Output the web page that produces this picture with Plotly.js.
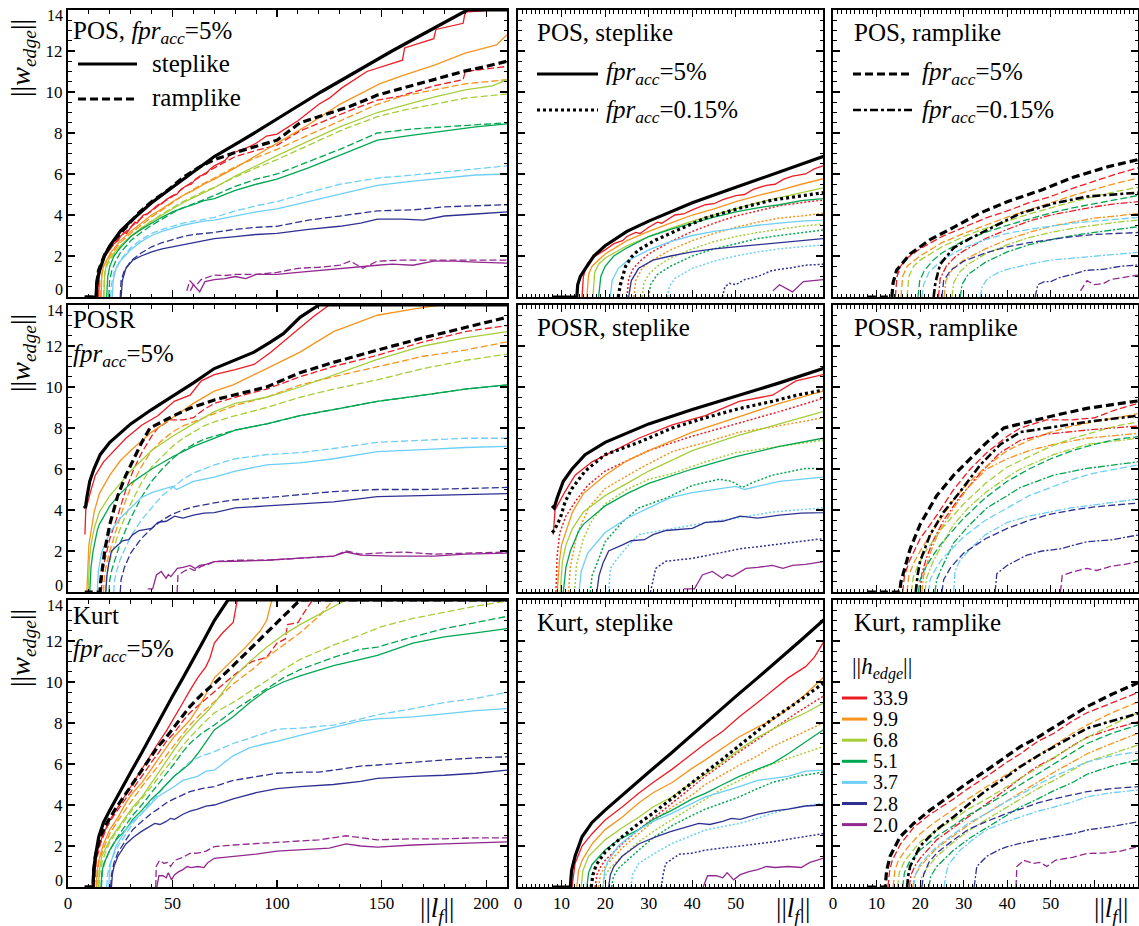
<!DOCTYPE html>
<html>
<head>
<meta charset="utf-8">
<script src="https://cdn.plot.ly/plotly-3.0.1.min.js"></script>
<style>
html, body { margin: 0; padding: 0; background: #fff; }
#chart { width: 1139px; height: 926px; }
</style>
</head>
<body>
<div id="chart"></div>
<script>
// Edge heights ||h_edge|| (legend order) and the colour of each
const hEdge = ['33.9', '9.9', '6.8', '5.1', '3.7', '2.8', '2.0'];
const hColors = ['#ED1C24', '#F7941D', '#A6CE39', '#00A651', '#6DCFF6', '#2E3192', '#92278F'];

// Each curve is a flat list of (||l_f||, ||w_edge||) pairs; curve lists follow hEdge order.
// ---------- POS ----------
const POS_step5_black = [8,0, 13.5,0, 13.7,0.6, 14.3,1.0, 15.5,1.4, 17.4,2.0, 20,2.5, 25,3.2, 30,3.7, 40,4.6, 50,5.35, 60,6.1, 70,6.85, 80,7.45, 90,8.05, 105,9.0, 121,10.0, 138,11.0, 155,12.0, 173,13.0, 191,14, 210,14];
const POS_step5 = [
  [14.7,0, 15,1.0, 15.8,1.6, 17,1.9, 20,2.3, 22,2.6, 24,2.75, 25,2.95, 27,3.15, 28,3.1, 30,3.4, 32,3.65, 33,3.6, 36,4.0, 38,4.05, 40,4.25, 43,4.5, 45,4.55, 47,4.75, 50,4.95, 52,5.0, 54,5.25, 57,5.45, 59,5.5, 61,5.75, 63,5.9, 66,6.0, 68,6.25, 70,6.4, 75,6.65, 78,7.0, 85,7.25, 90,7.5, 95,7.85, 100,7.95, 110,8.6, 120,9.4, 125,9.7, 131,10.2, 143,11.0, 160,11.55, 161,12.15, 175,12.6, 176,13.05, 189,13.35, 190,13.9, 203,14.0, 210,14.0],
  [15.8,0, 16.2,1.1, 17,1.5, 20,2.1, 25,2.75, 30,3.2, 35,3.6, 40,4.0, 45,4.3, 50,4.65, 55,4.95, 60,5.2, 65,5.5, 70,5.75, 80,6.3, 90,6.9, 100,7.5, 115,8.4, 130,9.4, 149,10.4, 160,10.8, 175,11.3, 190,11.9, 205,12.3, 210,12.8],
  [17.2,0, 17.6,1.2, 18.5,1.6, 20,1.9, 25,2.5, 30,2.95, 35,3.35, 40,3.7, 45,4.0, 50,4.3, 55,4.6, 60,4.85, 65,5.1, 70,5.33, 80,5.9, 90,6.4, 100,6.9, 115,7.6, 130,8.3, 148,9.0, 160,9.35, 175,9.75, 190,10.1, 203,10.3, 210,10.6],
  [18.5,0, 19,1.0, 20,1.5, 22,2.0, 25,2.4, 30,2.95, 35,3.3, 40,3.6, 45,3.9, 50,4.15, 55,4.35, 60,4.5, 65,4.7, 70,4.8, 80,5.2, 90,5.5, 100,5.75, 115,6.3, 130,6.9, 148,7.65, 165,7.9, 180,8.1, 195,8.3, 210,8.45],
  [21.2,0, 21.6,0.8, 23,1.4, 25,1.75, 30,2.3, 35,2.7, 40,3.0, 45,3.2, 50,3.35, 55,3.5, 60,3.6, 65,3.7, 70,3.75, 80,3.95, 90,4.15, 100,4.3, 115,4.65, 130,5.0, 148,5.45, 165,5.65, 180,5.8, 195,5.95, 210,6.0],
  [25.4,0, 26,0.8, 27.7,1.4, 31,1.8, 35,2.0, 40,2.2, 45,2.35, 50,2.45, 55,2.55, 60,2.65, 65,2.75, 70,2.85, 80,2.95, 90,3.05, 100,3.1, 115,3.3, 130,3.45, 140,3.6, 148,3.8, 160,3.8, 170,3.75, 180,3.95, 195,4.05, 210,4.15],
  [58.5,0.3, 60,0.6, 63,0.25, 65.5,0.75, 70,0.85, 75,0.9, 80,1.0, 85,0.9, 90,1.1, 100,1.1, 110,1.2, 120,1.3, 130,1.4, 140,1.5, 148,1.55, 155,1.6, 165,1.55, 175,1.75, 185,1.75, 195,1.7, 210,1.65]
];
const POS_ramp5_black = [8,0, 13.5,0, 13.8,0.7, 14.6,1.3, 17.7,2.1, 22.3,2.8, 27.7,3.4, 33.8,4.1, 40,4.65, 47.6,5.2, 55.3,5.85, 63,6.35, 70,6.7, 80,7.05, 90,7.35, 100,7.65, 111,8.5, 123,8.9, 135,9.3, 148,9.85, 159,10.15, 175,10.6, 189,11.0, 200,11.25, 210,11.5];
const POS_ramp5 = [
  [14.3,0, 14.7,1.0, 15.5,1.5, 17,1.9, 20,2.35, 25,2.95, 30,3.4, 35,3.85, 40,4.2, 45,4.6, 50,4.9, 55,5.3, 60,5.65, 65,6.0, 70,6.3, 80,6.85, 90,7.15, 100,7.4, 111,8.1, 123,8.6, 135,9.1, 148,9.6, 159,9.8, 175,10.3, 189,10.6, 190,11.0, 210,11.25],
  [15.6,0, 16,1.0, 17,1.5, 20,2.0, 25,2.65, 30,3.1, 35,3.5, 40,3.9, 45,4.25, 50,4.6, 55,4.95, 60,5.25, 65,5.55, 70,5.8, 80,6.35, 90,6.8, 100,7.2, 115,7.9, 130,8.6, 148,9.4, 160,9.8, 175,10.1, 190,10.4, 210,10.6],
  [17,0, 17.4,1.0, 18.5,1.5, 20,1.8, 25,2.45, 30,2.95, 35,3.35, 40,3.7, 45,4.05, 50,4.35, 55,4.65, 60,4.9, 65,5.15, 70,5.35, 80,5.85, 90,6.3, 100,6.7, 115,7.4, 130,8.1, 148,8.8, 160,9.1, 175,9.4, 190,9.7, 210,9.9],
  [19.5,0, 19.9,0.8, 21,1.3, 23,1.8, 25,2.15, 30,2.75, 35,3.15, 40,3.5, 45,3.8, 50,4.1, 55,4.35, 60,4.55, 65,4.75, 70,4.95, 80,5.4, 90,5.75, 100,6.0, 115,6.6, 130,7.2, 148,8.0, 165,8.2, 180,8.3, 195,8.4, 210,8.5],
  [20.4,0, 20.8,0.6, 22,1.2, 25,1.8, 30,2.4, 35,2.8, 40,3.1, 45,3.3, 50,3.45, 55,3.6, 60,3.7, 65,3.8, 70,3.88, 80,4.2, 90,4.45, 100,4.65, 115,5.1, 130,5.5, 148,5.8, 165,5.95, 180,6.1, 195,6.25, 210,6.4],
  [25,0, 25.4,0.8, 27,1.3, 30,1.75, 35,2.15, 40,2.45, 45,2.65, 50,2.8, 55,2.95, 60,3.05, 65,3.1, 70,3.15, 80,3.3, 90,3.4, 100,3.45, 115,3.75, 130,3.95, 148,4.2, 165,4.25, 180,4.4, 195,4.45, 210,4.5],
  [56.8,0.3, 58.3,0.8, 60,0.6, 62,0.65, 63.7,0.85, 67,0.95, 70,1.07, 75,1.05, 80,1.1, 90,1.1, 100,1.2, 110,1.4, 120,1.45, 130,1.55, 135,1.75, 141,1.4, 148,1.75, 160,1.8, 175,1.8, 190,1.8, 210,1.8]
];
const POS_step015_black = [23,0, 23.5,0.6, 24.7,1.5, 26,1.95, 27.7,2.3, 31.6,2.78, 37,3.3, 43,3.85, 50.8,4.33, 58.4,4.73, 64,4.9, 70,5.09];
const POS_step015 = [
  [25,0, 25.4,0.9, 26.5,1.4, 28,1.75, 30,2.1, 35,2.7, 40,3.2, 45,3.6, 50,3.95, 55,4.2, 60,4.45, 65,4.6, 70,4.73],
  [26.6,0, 27,0.8, 28.5,1.4, 30,1.7, 35,2.3, 40,2.75, 45,3.1, 50,3.4, 55,3.65, 60,3.85, 65,3.95, 70,4.08],
  [28.5,0, 28.9,0.7, 30,1.1, 32,1.5, 35,1.9, 40,2.35, 45,2.7, 50,2.95, 55,3.15, 60,3.3, 65,3.45, 70,3.56],
  [30,0, 30.4,0.6, 32,1.1, 35,1.5, 40,2.0, 45,2.35, 50,2.6, 55,2.85, 60,3.0, 65,3.15, 70,3.27],
  [34.3,0, 34.7,0.5, 36,0.9, 40,1.4, 45,1.75, 50,2.0, 55,2.2, 60,2.35, 65,2.45, 70,2.54],
  [46.9,0, 47.5,0.5, 48.5,0.67, 50,0.6, 52,0.85, 55,1.0, 58.4,1.3, 62,1.4, 66,1.55, 70,1.6],
  []
];
const POS_ramp015_black = [23.1,0, 23.5,0.7, 24.6,1.6, 27.7,2.4, 31.5,2.86, 36.9,3.43, 43,4.08, 50.7,4.57, 58.3,4.9, 70,5.09];
const POS_ramp015 = [
  [24.2,0, 24.6,0.9, 26,1.5, 28,1.95, 30,2.25, 35,2.85, 40,3.3, 45,3.7, 50,4.0, 55,4.2, 60,4.4, 65,4.55, 70,4.65],
  [25.5,0, 25.9,0.8, 27.5,1.4, 30,1.8, 35,2.35, 40,2.8, 45,3.15, 50,3.45, 55,3.65, 60,3.85, 65,3.95, 70,4.08],
  [27.3,0, 27.7,0.7, 29,1.2, 31,1.6, 35,2.1, 40,2.55, 45,2.9, 50,3.15, 55,3.35, 60,3.5, 65,3.65, 70,3.75],
  [29.2,0, 29.6,0.6, 31,1.1, 35,1.7, 40,2.2, 45,2.55, 50,2.8, 55,3.0, 60,3.15, 65,3.3, 70,3.43],
  [33.8,0, 34.2,0.5, 35.5,0.9, 38,1.2, 40,1.35, 45,1.6, 50,1.8, 55,1.9, 60,2.0, 65,2.1, 70,2.18],
  [46.4,0, 47,0.6, 48.5,0.75, 50,0.75, 52,0.95, 55,1.1, 58,1.3, 62,1.35, 66,1.5, 70,1.56],
  []
];

// ---------- POSR ----------
const POSR_step5_black = [7.8,4.2, 8.3,4.1, 9,4.6, 10.4,5.4, 12.4,6.0, 15.4,6.7, 20,7.3, 25,7.75, 30,8.2, 40,8.9, 50,9.55, 60,10.2, 70,10.9, 80,11.3, 89,11.7, 97,12.2, 103,12.6, 111,13.4, 120,14, 210,14];
const POSR_step5 = [
  [8.1,2.8, 8.5,4.0, 10.8,4.9, 13.1,5.7, 17,6.35, 21.6,6.85, 27.7,7.5, 35.4,8.15, 43,8.6, 50.8,9.3, 58.4,9.6, 63.8,10.3, 70,10.6, 80,10.85, 89,11.1, 97,11.7, 103,12.2, 111,12.9, 117,13.4, 125,14, 210,14],
  [9,0, 9.5,1.5, 10,2.3, 12.5,3.9, 15,4.8, 20,5.7, 25,6.4, 30,6.9, 40,7.8, 50,8.5, 60,9.2, 70,9.8, 79,10.1, 95,10.9, 111,11.7, 127,12.7, 148,13.5, 165,13.8, 178,14, 210,14],
  [9.7,0, 10.2,1.5, 11,2.3, 12.5,3.1, 15,3.9, 20,4.7, 25,5.3, 30,5.9, 40,6.9, 50,7.6, 60,8.2, 70,8.8, 80,9.2, 95,9.5, 111,10.0, 127,10.6, 148,11.35, 170,12.0, 190,12.4, 210,12.7],
  [10.4,0, 11,1.2, 12,2.0, 13.5,2.8, 14,3.0, 15,3.3, 20,4.2, 25,4.8, 30,5.3, 40,6.0, 50,6.6, 60,7.1, 70,7.5, 80,7.9, 95,8.2, 111,8.6, 127,8.9, 148,9.3, 170,9.6, 190,9.9, 210,10.1],
  [14,0, 14.5,1.0, 16,1.9, 20,2.9, 25,3.6, 30,4.1, 35,4.6, 40,4.85, 45,5.0, 50,5.15, 52,5.0, 55,5.15, 60,5.4, 70,5.6, 80,5.9, 95,6.2, 111,6.3, 127,6.5, 148,6.85, 170,6.95, 190,7.05, 210,7.1],
  [18.1,0, 18.6,0.8, 19.5,1.4, 20.8,2.0, 24,2.3, 26,2.5, 29,2.55, 31,2.8, 34,3.0, 37,3.05, 40,3.1, 43,3.4, 47,3.45, 51,3.7, 55,3.6, 60,3.75, 65,3.85, 70,3.87, 80,4.1, 95,4.2, 111,4.3, 127,4.4, 148,4.65, 170,4.7, 190,4.75, 210,4.8],
  [38.1,0.15, 40.5,0.15, 42.3,0.83, 44.6,1.0, 46.9,0.67, 48,0.85, 49.2,0.75, 52.3,1.15, 55,1.2, 58.4,1.3, 60.8,1.15, 63,1.3, 66,1.35, 70,1.48, 80,1.5, 95,1.55, 111,1.65, 127,1.75, 133,1.95, 140,1.8, 155,1.75, 175,1.75, 190,1.85, 210,1.9]
];
const POSR_ramp5_black = [8,0, 15.3,0, 15.6,0.5, 16.2,1.0, 17.7,2.1, 20,3.3, 23.8,4.7, 27.7,5.7, 31.5,6.5, 35.3,7.3, 39.2,8.0, 43,8.2, 50.6,8.6, 58.3,8.96, 70,9.37, 79,9.6, 95,10.0, 111,10.7, 127,11.2, 148,11.8, 170,12.4, 190,12.9, 210,13.4];
const POSR_ramp5 = [
  [16,0, 16.4,0.8, 17.5,1.5, 20,2.6, 24,3.8, 27.7,5.0, 31.5,6.0, 35.3,6.8, 40,7.6, 43,8.0, 49,8.4, 55,8.4, 60,8.5, 65,8.9, 70,9.2, 80,9.5, 95,9.9, 111,10.5, 127,11.0, 148,11.55, 170,12.2, 190,12.7, 210,13.0],
  [17,0, 17.4,0.8, 18.5,1.4, 20,2.0, 23,3.0, 27,4.3, 30,5.1, 35,6.1, 40,6.9, 45,7.4, 50,7.8, 55,8.1, 60,8.3, 65,8.5, 70,8.7, 80,9.1, 95,9.5, 111,10.1, 127,10.5, 148,11.0, 170,11.5, 190,11.8, 210,12.2],
  [18,0, 18.4,0.7, 19.5,1.3, 21,1.9, 25,3.1, 30,4.3, 35,5.3, 40,6.1, 45,6.6, 50,7.1, 55,7.5, 60,7.8, 65,8.1, 70,8.3, 80,8.6, 95,9.0, 111,9.5, 127,9.9, 148,10.35, 170,10.9, 190,11.3, 210,11.6],
  [19.6,0, 20,0.6, 21,1.1, 23,1.8, 25,2.4, 30,3.6, 35,4.6, 40,5.4, 45,6.0, 50,6.5, 55,6.9, 60,7.2, 65,7.45, 70,7.6, 80,7.9, 95,8.2, 111,8.6, 127,8.9, 148,9.3, 170,9.6, 190,9.9, 210,10.1],
  [21.9,0, 22.3,0.6, 23.5,1.1, 25,1.6, 30,2.7, 35,3.5, 40,4.1, 45,4.7, 50,5.1, 55,5.5, 60,5.8, 65,6.0, 70,6.2, 80,6.5, 95,6.7, 111,6.8, 127,7.0, 148,7.3, 170,7.4, 190,7.5, 210,7.5],
  [25,0, 25.4,0.6, 27,1.2, 30,1.9, 35,2.6, 40,3.1, 45,3.5, 50,3.8, 55,4.0, 60,4.15, 65,4.25, 70,4.35, 80,4.5, 95,4.6, 111,4.75, 127,4.9, 148,5.0, 170,5.0, 190,5.05, 210,5.1],
  [52.2,0, 52.6,0.8, 55.3,1.0, 58.3,1.15, 60.5,1.05, 63.7,1.25, 67,1.35, 70,1.48, 80,1.55, 95,1.55, 111,1.65, 127,1.75, 133,2.0, 140,1.85, 148,1.9, 160,1.95, 175,1.85, 190,1.9, 210,1.95]
];
const POSR_step015_black = [7.8,2.9, 8.3,3.0, 9.7,3.6, 10.8,4.4, 12.4,5.05, 15.4,5.9, 20,6.7, 25,7.1, 27.7,7.3, 35.4,8.0, 43,8.5, 50.8,8.95, 58.4,9.3, 64,9.6, 70,9.85];
const POSR_step015 = [
  [8.7,0, 9,1.8, 9.6,2.9, 11,3.7, 13.1,4.4, 16,5.2, 20,5.9, 25,6.4, 30,6.9, 40,7.6, 50,8.2, 60,8.8, 70,9.45],
  [11.6,0, 12,1.2, 13.5,2.8, 16.2,4.1, 20,5.05, 27.7,6.0, 35.4,6.85, 43,7.3, 50.8,7.8, 58.4,8.05, 70,8.5],
  [13,0, 13.4,1.3, 15,2.6, 17,3.5, 20,4.3, 25,5.0, 30,5.5, 35,5.75, 43,6.35, 50,6.8, 60,7.1, 70,7.4],
  [16.6,0, 17,0.8, 18.5,1.6, 20,2.45, 23.9,3.4, 27.7,4.1, 33.9,4.57, 40,5.2, 46.2,5.5, 49,5.4, 51.5,5.1, 54,5.35, 58.4,5.7, 66,6.03, 70,6.03],
  [20.8,0, 21.2,1.15, 22.3,1.5, 25,2.2, 27.7,2.8, 35.4,3.1, 40,3.27, 45,3.45, 50,3.6, 58.4,3.9, 64,4.0, 70,4.1],
  [30.4,0, 31.6,1.15, 33.9,1.5, 40,1.64, 45,1.85, 50.8,2.1, 58.4,2.3, 64,2.45, 70,2.6],
  []
];
const POSR_ramp015_black = [19,0, 19.4,0.8, 20,1.5, 22.3,2.8, 25.4,3.9, 29.2,4.9, 33.8,6.2, 38.4,7.2, 43,7.8, 49,8.0, 58.3,8.3, 70,8.6];
const POSR_ramp015 = [
  [20,0, 20.4,0.9, 21.5,1.7, 23,2.5, 25.4,3.5, 29,4.6, 33.8,5.8, 38.4,6.8, 43,7.4, 49,7.7, 58.3,7.9, 70,8.1],
  [20.4,0, 20.8,0.8, 22.3,1.9, 24,2.8, 27.7,4.1, 31,5.1, 35.3,6.0, 40,6.5, 45,6.9, 50.6,7.2, 58.3,7.5, 70,7.74],
  [21.1,0, 21.5,0.7, 23,1.5, 25,2.3, 27.7,3.3, 31,4.1, 35.3,4.9, 40,5.6, 43,6.0, 50.6,6.7, 58.3,7.2, 70,7.5],
  [23.4,0, 23.8,0.6, 25,1.2, 27.7,2.4, 31,3.2, 35.3,4.1, 40,4.7, 43,5.1, 50.6,5.7, 58.3,6.03, 70,6.35],
  [27.7,0, 28,1.0, 29,1.5, 31.5,2.1, 35,2.8, 40,3.4, 45,3.7, 50,3.9, 54.5,4.1, 60,4.25, 65,4.4, 70,4.54],
  [37.2,0, 37.6,0.9, 40,1.3, 44.5,1.8, 48,2.0, 52,2.1, 58.3,2.45, 64,2.55, 70,2.78],
  []
];

// ---------- Kurt ----------
const Kurt_step5_black = [8,0, 12,0, 12.3,0.8, 13.1,1.5, 14.7,2.45, 17,3.15, 20,3.75, 25,4.7, 30,5.6, 35,6.5, 40,7.45, 45,8.4, 50,9.3, 55,10.2, 60,11.1, 65,12.05, 70,13.0, 76.5,14, 210,14];
const Kurt_step5 = [
  [12.4,0, 12.8,0.8, 13.1,1.15, 14.7,2.0, 17,2.6, 20,3.27, 23.9,3.9, 27.7,4.57, 31,5.1, 35.4,5.75, 40,6.5, 43,7.0, 47,7.6, 50.8,8.3, 55,9.0, 58.4,9.6, 62,10.2, 66,10.75, 68,11.2, 70,11.9, 74,12.4, 79,12.9, 81,14, 210,14],
  [13.5,0, 13.9,0.8, 14.7,1.3, 17,2.1, 20,2.8, 23.9,3.4, 27.7,4.1, 31,4.6, 35.4,5.1, 40,5.8, 43,6.2, 47,6.8, 50.8,7.33, 55,7.8, 58.4,8.15, 62,8.7, 66,9.4, 70,10.2, 75,10.7, 79,11.1, 85,11.7, 92,12.5, 95,13.0, 97.5,14, 210,14],
  [14.5,0, 14.9,0.8, 16.2,1.5, 18,1.9, 20,2.3, 24,2.9, 27.7,3.4, 31,3.9, 35.4,4.4, 40,5.1, 43,5.5, 47,6.1, 50.8,6.7, 55,7.3, 58.4,7.7, 62,8.1, 66,8.5, 70,8.96, 79,10.2, 87,11.0, 95,11.7, 103,12.3, 111,12.8, 124,13.5, 133,14, 210,14],
  [15.8,0, 16.2,0.7, 17,1.1, 20,1.8, 23,2.3, 27.7,2.8, 31,3.3, 35.4,3.75, 40,4.3, 43,4.57, 47,5.0, 50.8,5.4, 55,5.75, 58.4,6.03, 62,6.5, 66,7.1, 70,7.66, 79,8.3, 87,9.0, 95,9.6, 103,10.0, 111,10.3, 127,10.8, 140,11.1, 148,11.3, 165,11.9, 180,12.2, 195,12.4, 210,12.6],
  [19.5,0, 19.9,0.8, 20.5,1.2, 23,2.0, 27.7,2.8, 31,3.2, 35.4,3.6, 40,4.1, 43,4.4, 50.8,4.9, 55,5.2, 58.4,5.3, 62,5.4, 66,5.65, 70,5.7, 79,6.4, 87,6.8, 95,7.0, 100,7.1, 111,7.4, 127,7.8, 140,8.1, 148,8.2, 165,8.3, 180,8.45, 195,8.6, 210,8.7],
  [20.8,0, 21.2,0.6, 22,1.0, 23.9,1.5, 27.7,2.1, 31.6,2.45, 35,2.7, 38,2.9, 41.5,3.1, 44,3.05, 47,3.2, 49,3.35, 51,3.3, 55,3.55, 58.4,3.7, 62,3.8, 66,3.95, 70,4.0, 79,4.3, 90,4.6, 100,4.8, 111,4.9, 127,5.0, 140,5.15, 148,5.3, 165,5.4, 180,5.45, 195,5.55, 210,5.7],
  [42.5,0, 43.5,0.55, 45.5,0.55, 47,0.45, 48,0.7, 49.5,0.35, 51,0.6, 53,0.75, 55,0.85, 57,1.0, 59,0.95, 62,1.0, 65,0.95, 67,1.2, 70,1.4, 75,1.45, 80,1.5, 90,1.6, 100,1.75, 115,1.85, 125,1.9, 133,2.1, 140,2.0, 148,1.95, 165,2.05, 180,2.1, 195,2.15, 210,2.2]
];
const Kurt_ramp5_black = [8,0, 12,0, 12.3,0.8, 13.1,1.5, 15.4,2.45, 18.5,3.1, 22.3,3.75, 27.7,4.57, 31,5.1, 35.3,5.7, 40,6.4, 43,6.85, 47,7.3, 50.7,7.8, 55,8.35, 58.3,8.8, 64,9.4, 70,9.93, 79,10.8, 88,11.7, 95,12.4, 103,13.2, 111,14, 210,14];
const Kurt_ramp5 = [
  [12.6,0, 13,0.8, 13.6,1.3, 15.5,2.1, 18.5,2.9, 22,3.5, 27.7,4.3, 31,4.8, 35.3,5.4, 40,6.1, 43,6.5, 47,7.1, 50.7,7.5, 55,8.1, 58.3,8.5, 64,9.0, 70,9.53, 79,10.3, 88,11.0, 95,11.2, 100,11.9, 104,12.1, 105,12.8, 110,12.9, 113,13.4, 117,14, 210,14],
  [13.8,0, 14.2,0.8, 15,1.3, 17,1.9, 20,2.6, 23,3.1, 27.7,3.8, 31,4.3, 35.3,4.9, 40,5.5, 43,5.9, 47,6.4, 50.7,6.9, 55,7.5, 58.3,7.9, 64,8.5, 70,9.04, 79,9.9, 88,10.6, 95,11.2, 103,11.8, 111,12.4, 120,13.2, 127,14, 210,14],
  [14.8,0, 15.2,0.7, 16.5,1.3, 18,1.7, 20,2.2, 24,2.8, 27.7,3.3, 31,3.8, 35.3,4.3, 40,4.9, 43,5.3, 47,5.8, 50.7,6.3, 55,6.9, 58.3,7.3, 64,7.9, 70,8.5, 79,9.0, 88,9.6, 95,10.1, 103,10.6, 111,11.1, 127,11.8, 140,12.3, 150,12.7, 165,13.1, 180,13.4, 195,13.7, 210,13.95],
  [16,0, 16.4,0.7, 17.5,1.2, 20,1.8, 24,2.5, 27.7,3.0, 31,3.5, 35.3,4.0, 40,4.6, 43,5.0, 47,5.5, 50.7,6.0, 55,6.6, 58.3,7.0, 64,7.5, 70,7.9, 79,8.6, 88,9.2, 95,9.7, 103,10.2, 111,10.6, 127,11.2, 140,11.6, 148,11.7, 165,12.2, 180,12.6, 195,12.9, 210,13.2],
  [18.5,0, 18.9,0.6, 20,1.1, 22,1.6, 24,2.0, 27.7,2.6, 31,3.1, 35.3,3.6, 40,4.2, 43,4.5, 47,5.0, 50.7,5.4, 55,5.8, 58.3,6.1, 64,6.4, 70,6.6, 79,7.0, 88,7.3, 95,7.5, 100,7.7, 111,7.75, 120,7.85, 127,7.9, 140,8.2, 148,8.4, 165,8.7, 180,9.0, 195,9.2, 210,9.5],
  [20.4,0, 20.8,0.6, 22,1.2, 24,1.7, 27.7,2.3, 31,2.8, 35.3,3.2, 40,3.6, 43,3.8, 47,4.1, 50.7,4.3, 55,4.5, 58.3,4.65, 64,4.8, 70,4.9, 79,5.2, 88,5.35, 95,5.45, 100,5.55, 111,5.6, 120,5.6, 127,5.7, 140,5.9, 148,5.95, 165,6.1, 180,6.2, 195,6.3, 210,6.35],
  [42,0, 42.2,1.0, 43.8,1.3, 46,1.15, 47.5,1.2, 49.1,1.0, 51,1.3, 55,1.45, 58.3,1.64, 62,1.65, 66,1.75, 70,1.97, 79,2.05, 88,2.1, 100,2.2, 111,2.25, 120,2.3, 133,2.5, 140,2.4, 148,2.3, 165,2.35, 180,2.35, 195,2.4, 210,2.4]
];
const Kurt_step015_black = [16.8,0, 17.2,0.6, 18,1.1, 20,1.7, 23.9,2.45, 27.7,3.1, 31,3.6, 35.4,4.35, 40,5.1, 43,5.6, 47,6.25, 50.8,6.9, 55,7.6, 58.4,8.2, 64,9.0, 70,9.93];
const Kurt_step015 = [
  [17.7,0, 18.1,0.6, 19,1.0, 20,1.3, 23.9,2.1, 27.7,2.8, 31,3.35, 35.4,4.1, 40,4.9, 43,5.4, 47,6.0, 50.8,6.6, 55,7.2, 58.4,7.7, 64,8.5, 70,9.3],
  [18.5,0, 18.9,0.6, 20,1.0, 23.9,1.9, 27.7,2.6, 31,3.2, 35.4,3.9, 40,4.5, 43,5.0, 47,5.5, 50.8,5.95, 55,6.4, 58.4,6.85, 64,7.4, 70,8.0],
  [19.5,0, 19.9,0.5, 21,0.9, 23.9,1.5, 27.7,2.2, 31,2.7, 35.4,3.3, 40,3.9, 43,4.3, 47,4.8, 50.8,5.2, 55,5.7, 58.4,6.0, 64,6.4, 70,6.85],
  [21.5,0, 21.9,0.5, 23,0.9, 25,1.3, 27.7,1.8, 31,2.4, 35.4,3.0, 40,3.5, 43,3.8, 47,4.1, 50.8,4.4, 55,4.8, 58.4,5.1, 64,5.4, 70,5.6],
  [25.9,0, 26.3,0.6, 27.7,1.15, 31,1.6, 35.4,2.13, 40,2.5, 43,2.78, 47,2.95, 50.8,3.1, 55,3.35, 58.4,3.6, 64,3.9, 70,4.08],
  [32.9,0, 33.3,0.6, 33.9,1.15, 37,1.6, 40,1.65, 43,1.8, 47,1.9, 50.8,2.0, 55,2.1, 58.4,2.2, 64,2.4, 70,2.6],
  []
];
const Kurt_ramp015_black = [17,0, 17.3,0.6, 17.7,1.0, 20,2.0, 23.8,2.8, 27.7,3.43, 31.5,4.1, 35.3,4.73, 40,5.4, 43,5.87, 47,6.4, 50.7,6.85, 55,7.35, 58.3,7.74, 64,8.1, 70,8.47];
const Kurt_ramp015 = [
  [17.5,0, 17.9,0.6, 19,1.1, 20,1.4, 23.8,2.3, 27.7,2.9, 31.5,3.5, 35.3,4.1, 40,4.8, 43,5.3, 47,5.9, 50.7,6.3, 55,6.9, 58.3,7.3, 64,7.7, 70,8.07],
  [18.3,0, 18.7,0.5, 20,1.0, 23.8,1.9, 27.7,2.5, 31.5,3.1, 35.3,3.6, 40,4.2, 43,4.6, 47,5.1, 50.7,5.6, 55,6.1, 58.3,6.5, 64,7.0, 70,7.5],
  [20,0, 20.4,0.5, 21.5,0.9, 23.8,1.5, 27.7,2.2, 31.5,2.8, 35.3,3.3, 40,3.9, 43,4.3, 47,4.8, 50.7,5.2, 55,5.7, 58.3,6.1, 64,6.5, 70,6.93],
  [22,0, 22.4,0.5, 23.8,1.0, 27.7,1.8, 31.5,2.4, 35.3,2.9, 40,3.5, 43,3.9, 47,4.3, 50.7,4.7, 55,5.1, 58.3,5.5, 64,5.9, 70,6.2],
  [25.5,0, 25.9,0.6, 26.5,1.1, 29.2,1.8, 32,2.3, 35.3,2.8, 40,3.2, 43,3.43, 47,3.7, 50.7,3.9, 55,4.15, 58.3,4.4, 64,4.6, 70,4.73],
  [32.4,0, 32.8,0.6, 33,1.0, 35.3,1.5, 38,1.8, 40,1.97, 43,2.13, 47,2.3, 50.7,2.45, 55,2.6, 58.3,2.78, 64,2.95, 70,3.18],
  []
];

// Axis ticks
const xTicksWide = [0, 50, 100, 150, 200];
const xTicksNarrow = [0, 10, 20, 30, 40, 50, 60];
const xTextNarrow = ['0', '10', '20', '30', '40', '50', ''];
const yTicks = [0, 2, 4, 6, 8, 10, 12, 14];
const yText = ['', '2', '4', '6', '8', '10', '12', ''];   // 0 and 14 are set just inside the frame

// ---------- page geometry (pixels) ----------
const W = 1139, H = 926;
const px = v => v / W;
const py = v => 1 - v / H;
const COLS = [[68, 507], [518, 823], [833, 1138]];
const ROWS = [[10, 297], [305, 592], [600, 887]];
const FONT = 'Liberation Serif, Times New Roman, serif';

const methods = [
  { name: 'POS',  s5: POS_step5,  s5k: POS_step5_black,  r5: POS_ramp5,  r5k: POS_ramp5_black,
    s015: POS_step015, s015k: POS_step015_black, r015: POS_ramp015, r015k: POS_ramp015_black },
  { name: 'POSR', s5: POSR_step5, s5k: POSR_step5_black, r5: POSR_ramp5, r5k: POSR_ramp5_black,
    s015: POSR_step015, s015k: POSR_step015_black, r015: POSR_ramp015, r015k: POSR_ramp015_black },
  { name: 'Kurt', s5: Kurt_step5, s5k: Kurt_step5_black, r5: Kurt_ramp5, r5k: Kurt_ramp5_black,
    s015: Kurt_step015, s015k: Kurt_step015_black, r015: Kurt_ramp015, r015k: Kurt_ramp015_black }
];

const STY = {
  solid:   { width: 1.3, dash: 'solid' },
  dash:    { width: 1.3, dash: '7px,3px' },
  dot:     { width: 1.5, dash: '2px,2px' },
  dashdot: { width: 1.3, dash: '7px,2px,2px,2px' },
  kSolid:  { width: 3.2, dash: 'solid' },
  kDash:   { width: 3.2, dash: '8px,4px' },
  kDot:    { width: 3.2, dash: '3px,3px' },
  kDashdot:{ width: 2.6, dash: '8px,3px,3px,3px' }
};

function axId(n) { return n === 1 ? '' : String(n); }

function curve(pairs, n, color, sty) {
  const x = [], y = [];
  for (let i = 0; i < pairs.length; i += 2) { x.push(pairs[i]); y.push(pairs[i + 1]); }
  return {
    type: 'scatter', mode: 'lines', x, y,
    xaxis: 'x' + axId(n), yaxis: 'y' + axId(n),
    line: { color, width: sty.width, dash: sty.dash, shape: 'linear' },
    hoverinfo: 'skip', showlegend: false
  };
}

const traces = [];
const layout = {
  width: W, height: H,
  margin: { l: 0, r: 0, t: 0, b: 0 },
  paper_bgcolor: '#fff', plot_bgcolor: '#fff',
  font: { family: FONT, color: '#000', size: 16 },
  showlegend: false,
  annotations: [], shapes: []
};

methods.forEach((m, r) => {
  // panel contents: [set A (5%), black A, style A, black style A, set B, black B, style B, black style B]
  const panels = [
    [m.s5, m.s5k, STY.solid, STY.kSolid, m.r5, m.r5k, STY.dash, STY.kDash],
    [m.s5, m.s5k, STY.solid, STY.kSolid, m.s015, m.s015k, STY.dot, STY.kDot],
    [m.r5, m.r5k, STY.dash, STY.kDash, m.r015, m.r015k, STY.dashdot, STY.kDashdot]
  ];
  panels.forEach((p, c) => {
    const n = r * 3 + c + 1;
    const [setA, blackA, styA, kstyA, setB, blackB, styB, kstyB] = p;
    setB.forEach((pairs, i) => { if (pairs.length) traces.push(curve(pairs, n, hColors[i], styB)); });
    setA.forEach((pairs, i) => { if (pairs.length) traces.push(curve(pairs, n, hColors[i], styA)); });
    traces.push(curve(blackB, n, '#000', kstyB));
    traces.push(curve(blackA, n, '#000', kstyA));

    const wide = c === 0;
    layout['xaxis' + axId(n)] = {
      domain: [px(COLS[c][0]), px(COLS[c][1])],
      anchor: 'y' + axId(n),
      range: wide ? [0, 210] : [0, 70],
      tickmode: 'array',
      tickvals: wide ? xTicksWide : xTicksNarrow,
      ticktext: wide ? xTicksWide.map(String) : xTextNarrow,
      showticklabels: r === 2,
      ticks: 'inside', ticklen: 7, tickwidth: 1.2, tickcolor: '#000',
      minor: { ticks: 'inside', dtick: wide ? 10 : 1, tick0: 0, ticklen: 3.5, tickwidth: 1, tickcolor: '#000' },
      showline: true, linewidth: 2, linecolor: '#000', mirror: 'allticks',
      showgrid: false, zeroline: false, fixedrange: true,
      tickfont: { family: FONT, size: 17, color: '#000' }
    };
    layout['yaxis' + axId(n)] = {
      domain: [py(ROWS[r][1]), py(ROWS[r][0])],
      anchor: 'x' + axId(n),
      range: [0, 14],
      tickmode: 'array', tickvals: yTicks, ticktext: yText,
      showticklabels: c === 0,
      ticks: 'inside', ticklen: 7, tickwidth: 1.2, tickcolor: '#000',
      minor: { ticks: 'inside', dtick: 0.5, tick0: 0, ticklen: 3.5, tickwidth: 1, tickcolor: '#000' },
      showline: true, linewidth: 2, linecolor: '#000', mirror: 'allticks',
      showgrid: false, zeroline: false, fixedrange: true,
      tickfont: { family: FONT, size: 17, color: '#000' }
    };
  });
});

// ---------- text ----------
function note(text, x, y, size, xanchor, yanchor, extra) {
  layout.annotations.push(Object.assign({
    text, x: px(x), y: py(y), xref: 'paper', yref: 'paper',
    xanchor: xanchor || 'left', yanchor: yanchor || 'middle',
    showarrow: false, font: { family: FONT, size: size, color: '#000' }
  }, extra || {}));
}
const FPR = '<i>fpr</i><sub><i>acc</i></sub>';

// End labels of each ||w_edge|| axis, nudged inside the frame
ROWS.forEach(rw => {
  note('14', 64, rw[0] + 5, 16, 'right', 'middle', { borderpad: 0, height: 15 });
  note('0', 64, rw[1] - 7, 16, 'right', 'middle', { borderpad: 0, height: 15 });
});

// Panel titles
note('POS, ' + FPR + '=5%', 71, 50, 25, 'left', 'bottom');
note('POSR', 71, 335, 25, 'left', 'bottom');
note(FPR + '=5%', 71, 373, 25, 'left', 'bottom');
note('Kurt', 71, 631, 25, 'left', 'bottom');
note(FPR + '=5%', 71, 668, 25, 'left', 'bottom');
['POS', 'POSR', 'Kurt'].forEach((nm, r) => {
  const top = ROWS[r][0];
  note(nm + ', steplike', 535, top + 38, 25, 'left', 'bottom');
  note(nm + ', ramplike', 852, top + 38, 25, 'left', 'bottom');
});

// Axis titles
const W_EDGE = '||<i>w</i><sub><i>edge</i></sub>||';
const L_F = '||<i>l</i><sub><i>f</i></sub>||';
ROWS.forEach(rw => note(W_EDGE, 22, rw[0] + 48, 28, 'center', 'middle', { textangle: -90 }));
[437, 793, 1111].forEach(x => note(L_F, x, 910, 27, 'center', 'middle'));

// Line-style keys
function key(x0, x1, y, color, width, dash) {
  layout.shapes.push({
    type: 'line', xref: 'paper', yref: 'paper',
    x0: px(x0), x1: px(x1), y0: py(y), y1: py(y),
    line: { color, width, dash }
  });
}
key(78, 137, 64, '#000', STY.kSolid.width, STY.kSolid.dash);
note('steplike', 150, 63, 25, 'left', 'middle');
key(78, 137, 99, '#000', STY.kDash.width, STY.kDash.dash);
note('ramplike', 150, 98, 25, 'left', 'middle');

key(537, 598, 74, '#000', STY.kSolid.width, STY.kSolid.dash);
note(FPR + '=5%', 604, 91, 25, 'left', 'bottom');
key(537, 598, 110, '#000', STY.kDot.width, STY.kDot.dash);
note(FPR + '=0.15%', 604, 129, 25, 'left', 'bottom');

key(853, 912, 74, '#000', STY.kDash.width, STY.kDash.dash);
note(FPR + '=5%', 920, 91, 25, 'left', 'bottom');
key(853, 912, 110, '#000', STY.kDashdot.width, STY.kDashdot.dash);
note(FPR + '=0.15%', 920, 129, 25, 'left', 'bottom');

// Edge-height key
note('||<i>h</i><sub><i>edge</i></sub>||', 850, 668, 23, 'left', 'middle');
hEdge.forEach((lab, i) => {
  const y = 698 + 21.1 * i;
  key(842, 867, y, hColors[i], 3, 'solid');
  note(lab, 872, y, 20, 'left', 'middle', { borderpad: 0 });
});

Plotly.newPlot('chart', traces, layout, { staticPlot: true, displayModeBar: false });
</script>
</body>
</html>
